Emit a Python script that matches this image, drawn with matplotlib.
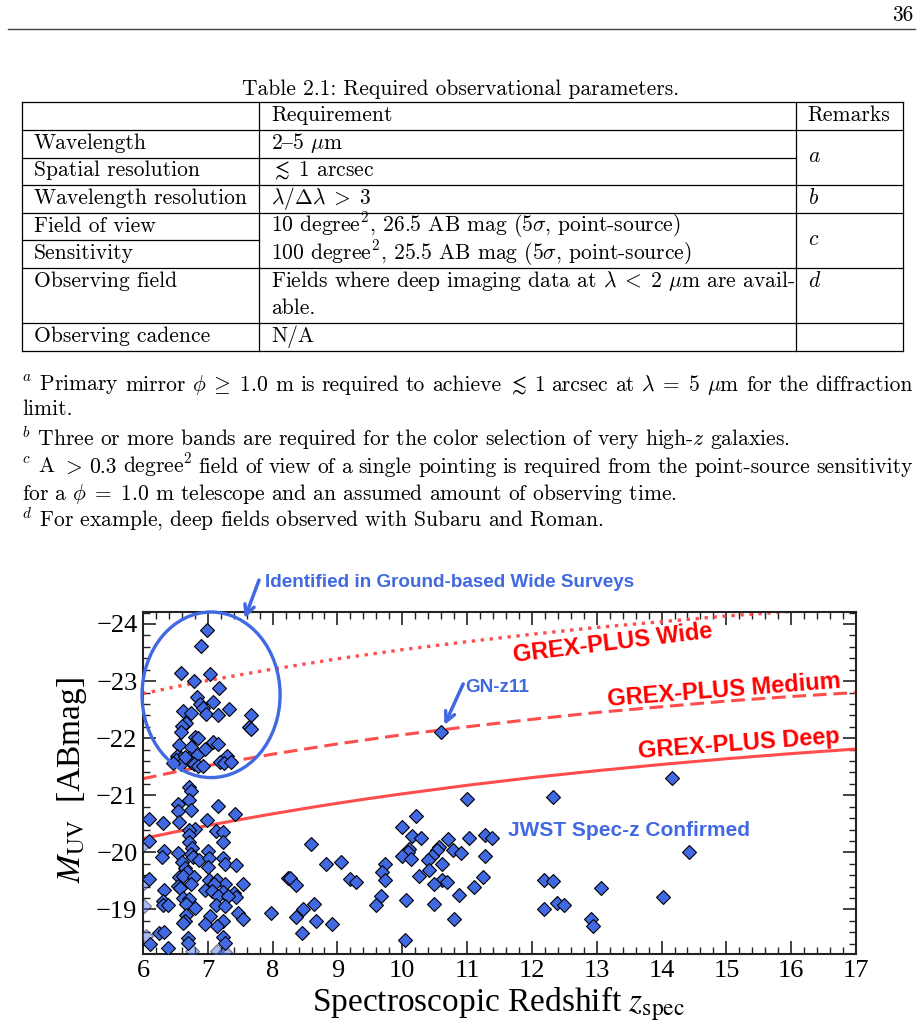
'''
page 36: table 2.1 (required observational parameters) with its footnotes,
and below it the M_UV vs spectroscopic redshift plot with the GREX-PLUS limits.
saves everything to out.png
'''

import matplotlib
matplotlib.use("Agg")
import matplotlib.pyplot as plt
from matplotlib.patches import Ellipse
from matplotlib.lines import Line2D
from matplotlib.ticker import MultipleLocator

plt.rcParams['mathtext.fontset'] = 'cm'
plt.rcParams['font.family'] = ['cmr10', 'DejaVu Serif']

W, H = 921, 1031

# ---- table content ----
table_caption = "Table 2.1: Required observational parameters."
row_names = ["Wavelength", "Spatial resolution", "Wavelength resolution", "Field of view",
             "Sensitivity", "Observing field", "", "Observing cadence"]
# '{' is the en-dash slot in cmr10
row_values = [r"2{5 $\mu$m", r"$\lesssim\;1$ arcsec", r"$\lambda/\Delta\lambda\;>\;3$",
              r"10 degree$^2$, 26.5 AB mag (5$\sigma$, point-source)",
              r"100 degree$^2$, 25.5 AB mag (5$\sigma$, point-source)",
              r"Fields where deep imaging data at $\lambda\;<\;2$ $\mu$m are avail-",
              "able.", "N/A"]
remarks = ["a", "b", "c", "d"]

# footnotes, the long ones split in words so they can be justified
foot_a1 = [r"$^a$ Primary", "mirror", r"$\phi\;\geq\;1.0$", "m", "is", "required", "to",
           "achieve", r"$\lesssim$", "1", "arcsec", "at", r"$\lambda\;=\;5$", r"$\mu$m", "for",
           "the", "diffraction"]
foot_a2 = "limit."
foot_b = r"$^b$ Three or more bands are required for the color selection of very high-$z$ galaxies."
foot_c1 = [r"$^c$ A", r"$>$", "0.3", r"degree$^2$", "field", "of", "view", "of", "a", "single",
           "pointing", "is", "required", "from", "the", "point-source", "sensitivity"]
foot_c2 = r"for a $\phi\;=\;1.0$ m telescope and an assumed amount of observing time."
foot_d = r"$^d$ For example, deep fields observed with Subaru and Roman."

# ---- GREX-PLUS limiting M_UV curves ----
z_grid = [6, 6.5, 7, 7.5, 8, 8.5, 9, 9.5, 10, 11, 12, 13, 14, 15, 16, 17]
m_deep = [-20.24, -20.36, -20.47, -20.575, -20.675, -20.77, -20.86, -20.945, -21.025, -21.175,
          -21.31, -21.43, -21.54, -21.64, -21.73, -21.81]
m_medium = [-21.29, -21.41, -21.52, -21.62, -21.72, -21.81, -21.90, -21.98, -22.06, -22.20,
            -22.33, -22.45, -22.55, -22.65, -22.73, -22.80]
m_wide = [-22.78, -22.90, -23.01, -23.11, -23.21, -23.30, -23.39, -23.47, -23.55, -23.69,
          -23.82, -23.94, -24.04, -24.14, -24.22, -24.29]

# ---- galaxies ----
# bright ones found in ground based wide surveys (inside the ellipse)
z_ground = [6.99, 6.90, 6.59, 7.04, 6.78, 7.17, 6.84, 7.08, 6.88, 6.93, 6.62, 6.74, 6.97, 7.33,
            7.15, 7.67, 6.67, 6.60, 7.63, 7.67, 6.58, 6.80, 6.85, 7.08, 7.15, 6.56, 6.74, 6.96,
            6.53, 6.58, 6.71, 6.84, 7.30, 6.51, 6.59, 6.74, 6.78, 7.19, 7.25, 7.36, 6.85, 6.93,
            6.47, 6.65]
m_ground = [-23.90, -23.62, -23.14, -23.12, -23.01, -22.88, -22.73, -22.64, -22.60, -22.53, -22.48,
            -22.44, -22.42, -22.51, -22.40, -22.40, -22.27, -22.22, -22.19, -22.16, -22.10, -22.02,
            -22.01, -21.94, -21.90, -21.88, -21.84, -21.81, -21.69, -21.65, -21.66, -21.71, -21.69,
            -21.61, -21.55, -21.59, -21.55, -21.58, -21.57, -21.58, -21.51, -21.52, -21.57, -21.67]

# spec-z confirmed, z < 8.5
z_low = [6.71, 6.74, 6.71, 6.54, 7.15, 6.54, 6.74, 7.42, 6.09, 6.31, 6.56, 6.99, 6.80, 6.71,
         7.13, 7.24, 6.71, 6.09, 6.71, 7.23, 6.75, 6.32, 6.54, 7.01, 6.74, 6.30, 6.77, 6.87,
         7.02, 7.23, 6.60, 6.65, 7.00, 7.27, 7.43, 6.68, 6.56, 6.62, 6.78, 6.09, 7.02, 7.14,
         7.27, 7.55, 6.74, 6.54, 7.10, 6.32, 6.57, 6.95, 7.06, 7.24, 7.40, 6.61, 7.15, 7.43,
         6.31, 6.71, 7.31, 6.31, 6.39, 6.67, 6.80, 7.13, 7.27, 7.47, 7.55, 7.03, 6.66, 6.65,
         6.61, 7.23, 7.14, 6.96, 6.24, 6.32, 6.70, 7.23, 6.70, 7.27, 6.11, 6.39, 7.97, 8.24]
m_low = [-21.15, -21.08, -20.91, -20.84, -20.81, -20.72, -20.75, -20.67, -20.59, -20.52, -20.53,
         -20.56, -20.41, -20.39, -20.37, -20.36, -20.30, -20.20, -20.18, -20.19, -20.08, -20.03,
         -19.99, -20.03, -19.98, -19.92, -19.92, -19.86, -19.90, -19.90, -19.84, -19.73, -19.75,
         -19.79, -19.78, -19.65, -19.57, -19.59, -19.57, -19.54, -19.52, -19.52, -19.45, -19.44,
         -19.44, -19.41, -19.44, -19.34, -19.38, -19.34, -19.32, -19.30, -19.29, -19.20, -19.23,
         -19.21, -19.15, -19.18, -19.24, -19.07, -19.07, -19.09, -19.03, -19.07, -19.06, -18.93,
         -18.84, -18.88, -18.91, -18.80, -18.76, -18.80, -18.71, -18.74, -18.59, -18.60, -18.50,
         -18.52, -18.41, -18.41, -18.39, -18.33, -18.93, -19.55]

# spec-z confirmed, z > 8.5
z_high = [11.00, 10.21, 10.00, 10.15, 10.29, 10.70, 11.03, 11.28, 11.39, 8.59, 10.11, 10.57,
          10.53, 10.78, 10.91, 10.09, 10.00, 10.14, 10.46, 10.40, 11.28, 8.82, 9.06, 9.73,
          10.61, 9.69, 10.41, 8.27, 8.36, 9.19, 9.29, 9.73, 10.26, 10.61, 10.69, 11.25, 10.49,
          11.11, 10.88, 9.67, 9.60, 10.05, 10.49, 8.64, 8.47, 8.36, 8.67, 8.91, 10.80, 8.46,
          10.04, 14.16, 12.33, 14.43, 12.18, 12.33, 13.06, 14.02, 12.18, 12.38, 12.50, 12.91,
          12.94]
m_high = [-20.94, -20.63, -20.44, -20.28, -20.26, -20.24, -20.26, -20.30, -20.25, -20.14, -20.06,
          -20.10, -20.05, -20.04, -19.99, -20.00, -19.93, -19.89, -19.94, -19.86, -19.93, -19.80,
          -19.83, -19.79, -19.79, -19.65, -19.69, -19.55, -19.42, -19.54, -19.48, -19.51, -19.58,
          -19.51, -19.48, -19.57, -19.44, -19.40, -19.26, -19.23, -19.07, -19.17, -19.10, -19.10,
          -19.00, -18.87, -18.80, -18.74, -18.83, -18.58, -18.46, -21.31, -20.97, -20.01, -19.51,
          -19.49, -19.38, -19.22, -19.00, -19.11, -19.08, -18.83, -18.71]

# GN-z11
z_gnz11 = [10.60]
m_gnz11 = [-22.11]

# the pale half-hidden ones at the frame edges
z_faded = [5.99, 6.02, 6.02, 6.05, 6.75, 7.14, 7.27]
m_faded = [-20.11, -19.47, -19.06, -18.53, -18.27, -18.27, -18.25]

BLUE = '#4169e1'
RED_LINE = '#ff4c4c'
RED_TEXT = '#ff0000'
FS = 15.5


def put(x, y, s, size=FS, ha='left', **kw):
    # x, y in page pixels, y is the baseline
    return fig.text(x / W, 1 - y / H, s, fontsize=size, ha=ha, va='baseline', **kw)


def justify(words, x0, x1, y):
    # spread the words so the line runs from x0 to x1, like latex does
    r = fig.canvas.get_renderer()
    texts = [put(x0, y, w) for w in words]
    widths = [t.get_window_extent(r).width for t in texts]
    gap = (x1 - x0 - sum(widths)) / (len(words) - 1)
    x = x0
    for t, w in zip(texts, widths):
        t.set_x(x / W)
        x += w + gap


def hline(y, x0, x1, lw=0.9, color='k'):
    fig.add_artist(Line2D([x0 / W, x1 / W], [1 - y / H, 1 - y / H], lw=lw, color=color,
                          transform=fig.transFigure))


def vline(x, y0, y1, lw=0.9, color='k'):
    fig.add_artist(Line2D([x / W, x / W], [1 - y0 / H, 1 - y1 / H], lw=lw, color=color,
                          transform=fig.transFigure))


fig = plt.figure(figsize=(W / 100, H / 100), dpi=100)

# page header
put(913, 21, "36", ha='right')
hline(29, 8, 915, lw=1.0, color='#444444')

# table
put(461, 95, table_caption, ha='center')
col_x = [22, 259, 796, 903]
for x in col_x:
    vline(x, 102, 351)
hline(102, 22, 903)
hline(130, 22, 903)
hline(158, 22, 796)
hline(185, 22, 903)
hline(213, 22, 903)
hline(240, 22, 259)
hline(268, 22, 903)
hline(323, 22, 903)
hline(351, 22, 903)

put(271, 121, "Requirement")
put(807, 121, "Remarks")
row_base = [149, 176, 204, 232, 259, 287, 314, 342]
for name, val, yb in zip(row_names, row_values, row_base):
    if name:
        put(34, yb, name)
    put(271, yb, val)
for r, yb in zip(remarks, [162, 204, 245, 287]):
    put(808, yb, r"$%s$" % r)

# footnotes
justify(foot_a1, 22, 913, 391)
put(22, 415, foot_a2)
put(22, 446, foot_b)
justify(foot_c1, 22, 913, 473)
put(22, 500, foot_c2)
put(22, 527, foot_d)

# ---- the plot ----
ax = fig.add_axes([143 / W, 1 - 954 / H, (856 - 143) / W, (954 - 612) / H])
ax.set_xlim(6, 17)
ax.set_ylim(-18.22, -24.21)

ax.plot(z_grid, m_deep, color=RED_LINE, lw=2.2, zorder=2)
ax.plot(z_grid, m_medium, color=RED_LINE, lw=2.2, ls=(0, (4.5, 2.2)), zorder=2)
ax.plot(z_grid, m_wide, color=RED_LINE, lw=2.4, ls=(0, (1, 1.7)), zorder=2)

dkw = dict(ls='none', marker='D', ms=6.8, mfc=BLUE, mec='k', mew=0.8, zorder=3)
ax.plot(z_faded, m_faded, alpha=0.45, **dkw)
ax.plot(z_low, m_low, **dkw)
ax.plot(z_high, m_high, **dkw)
ax.plot(z_ground, m_ground, **dkw)
ax.plot(z_gnz11, m_gnz11, **dkw)

ax.add_patch(Ellipse((7.05, -22.76), 2.13, 2.90, fill=False, ec=BLUE, lw=2.4,
                     clip_on=False, zorder=4))

sans = dict(family='Liberation Sans', fontweight='bold')
ax.annotate("", xy=(7.57, -24.10), xytext=(7.79, -24.77), annotation_clip=False,
            arrowprops=dict(arrowstyle='->,head_length=0.7,head_width=0.35', color=BLUE, lw=2.5,
                            shrinkA=0, shrinkB=0))
ax.text(7.88, -24.72, "Identified in Ground-based Wide Surveys", color=BLUE, fontsize=13.6,
        ha='left', va='center', clip_on=False, **sans)
ax.annotate("", xy=(10.65, -22.23), xytext=(10.94, -22.95),
            arrowprops=dict(arrowstyle='->,head_length=0.7,head_width=0.35', color=BLUE, lw=2.5,
                            shrinkA=0, shrinkB=0))
ax.text(10.97, -22.88, "GN-z11", color=BLUE, fontsize=13.6, ha='left', va='center', **sans)
ax.text(13.5, -20.38, "JWST Spec-z Confirmed", color=BLUE, fontsize=15, ha='center',
        va='center', **sans)

ax.text(13.24, -23.67, "GREX-PLUS Wide", color=RED_TEXT, fontsize=17, rotation=7,
        rotation_mode='anchor', ha='center', va='center', **sans)
ax.text(14.96, -22.83, "GREX-PLUS Medium", color=RED_TEXT, fontsize=17, rotation=4.5,
        rotation_mode='anchor', ha='center', va='center', **sans)
ax.text(15.2, -21.90, "GREX-PLUS Deep", color=RED_TEXT, fontsize=17, rotation=4.3,
        rotation_mode='anchor', ha='center', va='center', **sans)

ax.xaxis.set_major_locator(MultipleLocator(1))
ax.xaxis.set_minor_locator(MultipleLocator(0.2))
ax.yaxis.set_major_locator(MultipleLocator(1))
ax.yaxis.set_minor_locator(MultipleLocator(0.2))
ax.tick_params(which='both', direction='in', top=True, right=True, color='#222222')
ax.tick_params(which='major', length=9.5, width=1.2, labelsize=19,
               labelfontfamily='Liberation Serif')
ax.tick_params(axis='x', which='major', pad=4)
ax.tick_params(axis='y', which='major', pad=4)
ax.tick_params(which='minor', length=5, width=1.0)
for sp in ax.spines.values():
    sp.set_linewidth(1.5)
    sp.set_color('#222222')

ax.set_xlabel(r"Spectroscopic Redshift $z_{\rm spec}$", fontsize=24,
              family='Liberation Serif', math_fontfamily='stix')
ax.xaxis.label.set_va('center')
ax.xaxis.set_label_coords(0.498, -0.146)
ax.set_ylabel(r"$M_{\rm UV}$  [ABmag]", fontsize=24, family='Liberation Serif',
              math_fontfamily='stix')
ax.yaxis.label.set_va('center')
ax.yaxis.set_label_coords(-0.0996, 0.509)

fig.savefig("out.png", dpi=100)
